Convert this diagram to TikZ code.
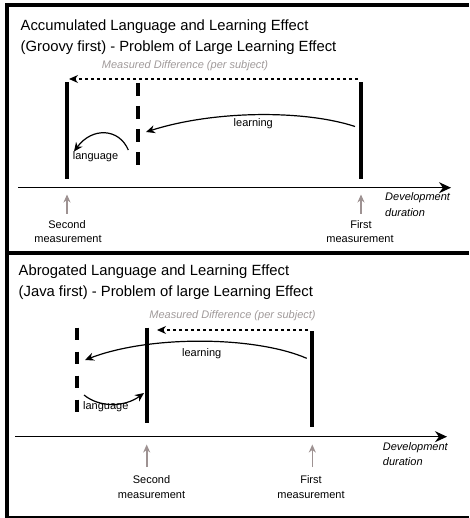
\documentclass[tikz,border=0pt]{standalone}
\usepackage{fontspec}
\setmainfont{Liberation Sans}
\usetikzlibrary{arrows.meta}
\definecolor{txtgray}{RGB}{160,154,154}
\definecolor{arrgray}{RGB}{158,146,146}
\begin{document}
\begin{tikzpicture}[x=1pt,y=-1pt,
  title/.style={anchor=base west,inner sep=0pt,font=\fontsize{14.8}{17}\selectfont},
  lbl/.style={inner sep=0pt,font=\fontsize{11}{13}\selectfont},
  mdiff/.style={anchor=base,inner sep=0pt,text=txtgray,font=\fontsize{11}{13}\selectfont\itshape},
  bar/.style={line width=4pt},
  dbar/.style={line width=4pt,dash pattern=on 13pt off 10pt},
  dbarb/.style={line width=4pt,dash pattern=on 12pt off 12pt},
  marrow/.style={line width=1.2pt,dash pattern=on 3.5pt off 2.5pt,-{Stealth[length=9pt,width=8pt]}},
  curvearrow/.style={line width=1.2pt,-{Stealth[length=9pt,width=8pt]}},
  axis/.style={line width=1.4pt,-{Stealth[length=12pt,width=11pt]}},
  garrow/.style={line width=1.6pt,arrgray,-{Stealth[length=8pt,width=7pt]}},
  frame/.style={line width=4pt}
]
\useasboundingbox (0,0) rectangle (469,518);
% frame
\coordinate (ftl) at (7,5);
\coordinate (ftr) at (469,5);
\coordinate (fml) at (7,252.5);
\coordinate (fmr) at (469,252.5);
\coordinate (fbl) at (7,518);
\coordinate (bbl) at (7,517);
\coordinate (bbr) at (469,517);
\draw[line width=3.5pt] (ftl) -- (ftr);
\draw[frame] (fml) -- (fmr);
\draw[frame] (7,3.25) -- (fbl);
\draw[line width=1.5pt] (bbl) -- (bbr);

% ================= top panel =================
\node[title] (t1) at (20.5,31) {Accumulated Language and Learning Effect};
\node[title] (t2) at (20.5,51.7) {(Groovy first) - Problem of Large Learning Effect};
\node[mdiff] (md1) at (185,68.3) {Measured Difference (per subject)};

\coordinate (L1a) at (67,82.5);  \coordinate (L1b) at (67,179);
\coordinate (D1a) at (138,83);   \coordinate (D1b) at (138,169);
\coordinate (R1a) at (361,82.5); \coordinate (R1b) at (361,179);
\draw[bar] (L1a) -- (L1b);
\draw[dbar] (D1a) -- (D1b);
\draw[bar] (R1a) -- (R1b);

\coordinate (m1s) at (358,79); \coordinate (m1e) at (69,79);
\draw[marrow] (m1s) -- (m1e);

\coordinate (l1s) at (355,126.5); \coordinate (l1e) at (146,132);
\draw[curvearrow] (l1s) .. controls (305,110) and (215,110) .. (l1e);
\node[lbl,anchor=base] (learn1) at (253.3,126.7) {learning};

\coordinate (g1s) at (128.3,150); \coordinate (g1e) at (74,151.5);
\draw[curvearrow] (g1s) .. controls (119,128) and (92,127) .. (g1e);
\node[lbl,anchor=base] (lang1) at (95.5,160) {language};

\coordinate (ax1s) at (18.3,187.7); \coordinate (ax1e) at (451,187.7);
\draw[axis] (ax1s) -- (ax1e);
\node[lbl,anchor=base west,font=\fontsize{11}{13}\selectfont\itshape] (dev1) at (385,201) {Development};
\node[lbl,anchor=base west,font=\fontsize{11}{13}\selectfont\itshape] (dur1) at (385,216.7) {duration};

\coordinate (a1s) at (67,214); \coordinate (a1e) at (67,194.5);
\draw[garrow] (a1s) -- (a1e);
\coordinate (a2s) at (361,214); \coordinate (a2e) at (361,194.5);
\draw[garrow] (a2s) -- (a2e);
\node[lbl,anchor=base] (sec1) at (67,228.3) {Second};
\node[lbl,anchor=base] (sec1m) at (68,242.7) {measurement};
\node[lbl,anchor=base] (fir1) at (361,228.3) {First};
\node[lbl,anchor=base] (fir1m) at (360,242.7) {measurement};

% ================= bottom panel =================
\node[title] (t3) at (18.5,275.7) {Abrogated Language and Learning Effect};
\node[title] (t4) at (18.5,296.7) {(Java first) - Problem of large Learning Effect};
\node[mdiff] (md2) at (232.5,318.3) {Measured Difference (per subject)};

\coordinate (D2a) at (77.3,327.7);  \coordinate (D2b) at (77.3,411.7);
\coordinate (S2a) at (146.7,327.7); \coordinate (S2b) at (146.7,423.3);
\coordinate (F2a) at (312.3,331);   \coordinate (F2b) at (312.3,426.7);
\draw[dbarb] (D2a) -- (D2b);
\draw[bar] (S2a) -- (S2b);
\draw[bar] (F2a) -- (F2b);

\coordinate (m2s) at (308,330); \coordinate (m2e) at (157,330);
\draw[marrow] (m2s) -- (m2e);

\coordinate (l2s) at (306.7,358.3); \coordinate (l2e) at (85,360);
\draw[curvearrow] (l2s) .. controls (255,336) and (150,335) .. (l2e);
\node[lbl,anchor=base] (learn2) at (201.7,356.7) {learning};

\coordinate (g2s) at (84,395); \coordinate (g2e) at (144,393);
\draw[curvearrow] (g2s) .. controls (100,408) and (125,407) .. (g2e);
\node[lbl,anchor=base] (lang2) at (105.8,409) {language};

\coordinate (ax2s) at (15,436.7); \coordinate (ax2e) at (447,436.7);
\draw[axis] (ax2s) -- (ax2e);
\node[lbl,anchor=base west,font=\fontsize{11}{13}\selectfont\itshape] (dev2) at (382.7,450) {Development};
\node[lbl,anchor=base west,font=\fontsize{11}{13}\selectfont\itshape] (dur2) at (382.7,465.7) {duration};

\coordinate (a3s) at (146.7,467); \coordinate (a3e) at (146.7,444.5);
\draw[garrow] (a3s) -- (a3e);
\coordinate (a4s) at (312.3,467); \coordinate (a4e) at (312.3,444.5);
\draw[garrow] (a4s) -- (a4e);
\node[lbl,anchor=base] (sec2) at (151.5,483.3) {Second};
\node[lbl,anchor=base] (sec2m) at (151.5,498.3) {measurement};
\node[lbl,anchor=base] (fir2) at (311,483.3) {First};
\node[lbl,anchor=base] (fir2m) at (311,498.3) {measurement};
\end{tikzpicture}
\end{document}
